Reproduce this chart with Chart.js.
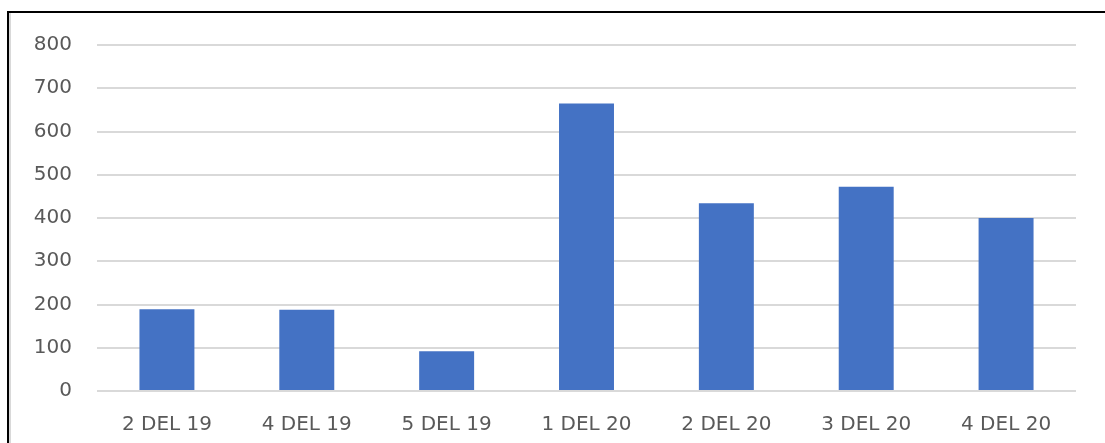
<!DOCTYPE html>
<html>
<head>
<meta charset="utf-8">
<script src="https://cdn.jsdelivr.net/npm/chart.js@4/dist/chart.umd.min.js"></script>
<style>
    html, body { margin: 0; padding: 0; background: #fff; overflow: hidden; }
    #frame {
        position: absolute; left: 7px; top: 11px;
        width: 1200px; height: 500px;
        border: 2px solid #000;
        box-shadow: inset 2px 0 0 #d9d9d9;
    }
    #wrap { position: absolute; left: 0; top: 0; width: 1105px; height: 443px; }
</style>
</head>
<body>
<div id="frame"></div>
<div id="wrap"><canvas id="barChart" width="1105" height="443"></canvas></div>
<script>
// Chart data
const categories = ['2 DEL 19', '4 DEL 19', '5 DEL 19', '1 DEL 20', '2 DEL 20', '3 DEL 20', '4 DEL 20'];
const values = [189, 188, 92, 665, 434, 472, 400];
const yTicks = [0, 100, 200, 300, 400, 500, 600, 700, 800];

const tickFont = { family: 'DejaVu Sans', size: 20 };

new Chart(document.getElementById('barChart'), {
    type: 'bar',
    data: {
        labels: categories,
        datasets: [{
            data: values,
            backgroundColor: '#4472C4',
            borderWidth: 0,
            barPercentage: 0.393,
            categoryPercentage: 1
        }]
    },
    options: {
        responsive: false,
        animation: false,
        layout: { padding: { top: 45, right: 29, bottom: 0, left: 0 } },
        scales: {
            x: {
                grid: { display: false },
                border: { display: false },
                ticks: { color: '#595959', font: tickFont, padding: 14, maxRotation: 0 },
                afterFit: function(scale) { scale.height = 52; }
            },
            y: {
                min: 0,
                max: 800,
                afterBuildTicks: function(scale) {
                    scale.ticks = yTicks.map(v => ({ value: v }));
                },
                grid: { color: '#d9d9d9', lineWidth: 2, drawTicks: false },
                border: { display: false },
                ticks: { color: '#595959', font: tickFont, padding: 25 },
                afterFit: function(scale) { scale.width = 97; }
            }
        },
        plugins: {
            legend: { display: false },
            tooltip: { enabled: false }
        }
    }
});
</script>
</body>
</html>
